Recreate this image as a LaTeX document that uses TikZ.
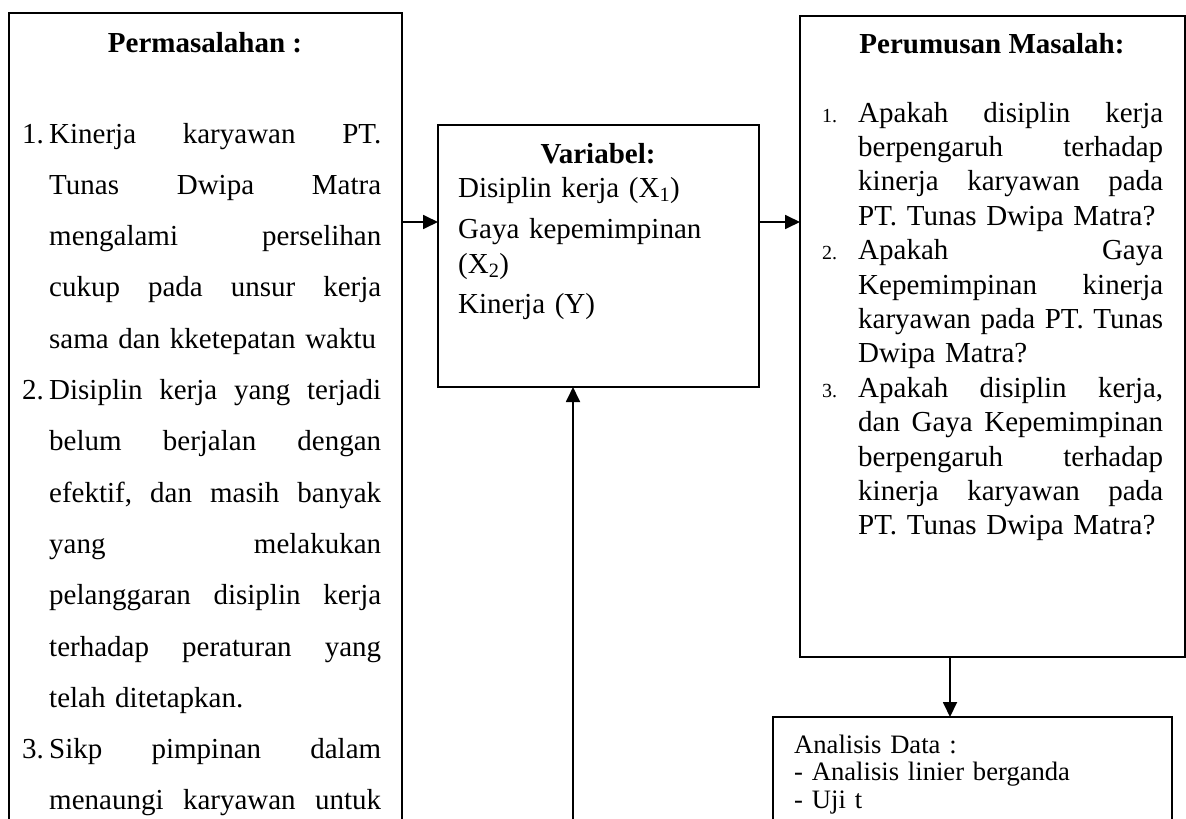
\documentclass[tikz,border=0pt]{standalone}
\usepackage{fontspec}
\setmainfont{Liberation Serif}
\usetikzlibrary{arrows.meta}

\newcommand{\barisKiri}[1]{\leavevmode\hbox to 332pt{\spaceskip=.25em plus 1fil\relax #1}}
\newcommand{\barisKanan}[1]{\leavevmode\hbox to 305pt{\spaceskip=.25em plus 1fil\relax #1}}
\newcommand{\noKiri}[1]{\leavevmode\llap{\makebox[27pt][l]{#1}}}
\newcommand{\noKanan}[1]{\leavevmode\llap{\makebox[36pt][l]{\fontsize{20}{20}\selectfont #1}}}

\tikzset{
  kotak/.style={draw, line width=1.8pt, anchor=north west, inner sep=0pt, outer sep=0pt},
  judul/.style={anchor=base, inner sep=0pt, font={\fontsize{29}{35}\selectfont\bfseries}},
  isi/.style={anchor=base west, inner sep=0pt},
  panah/.style={line width=1.8pt, -{Triangle[length=15pt,width=14pt]}},
}

\begin{document}
\frenchspacing
\begin{tikzpicture}[x=1pt,y=-1pt]
        \useasboundingbox (0,0) rectangle (1186,819);
        \clip (0,0) rectangle (1186,819);

        \node[kotak, minimum width=393, minimum height=900] (masalah) at (9,13) {};
        \node[kotak, minimum width=321, minimum height=262] (variabel) at (438,125) {};
        \node[kotak, minimum width=385, minimum height=641] (rumusan) at (800,16) {};
        \node[kotak, minimum width=399, minimum height=200] (analisis) at (773,717) {};

        \node[judul] (judulmasalah) at (205,52) {Permasalahan :};
        \node[isi, text width=340pt, font={\fontsize{29}{51.3}\selectfont}] (isimasalah) at (49,143) {%
          \noKiri{1.}\barisKiri{Kinerja karyawan PT.}\\
          \barisKiri{Tunas Dwipa Matra}\\
          \barisKiri{mengalami perselihan}\\
          \barisKiri{cukup pada unsur kerja}\\
          sama dan kketepatan waktu\\
          \noKiri{2.}\barisKiri{Disiplin kerja yang terjadi}\\
          \barisKiri{belum berjalan dengan}\\
          \barisKiri{efektif, dan masih banyak}\\
          \barisKiri{yang melakukan}\\
          \barisKiri{pelanggaran disiplin kerja}\\
          \barisKiri{terhadap peraturan yang}\\
          telah ditetapkan.\\
          \noKiri{3.}\barisKiri{Sikp pimpinan dalam}\\
          \barisKiri{menaungi karyawan untuk}};

        \node[judul] (judulvariabel) at (598,163) {Variabel:};
        \node[isi, text width=300pt, font={\fontsize{29}{35}\selectfont}] (isivariabel) at (458,197) {%
          Disiplin kerja (X\textsubscript{1})\\[6pt]
          Gaya kepemimpinan\\
          (X\textsubscript{2})\\[5pt]
          Kinerja (Y)};

        \node[judul] (judulrumusan) at (992,53) {Perumusan Masalah:};
        \node[isi, text width=310pt, font={\fontsize{29}{34.4}\selectfont}] (isirumusan) at (858,122) {%
          \noKanan{1.}\barisKanan{Apakah disiplin kerja}\\
          \barisKanan{berpengaruh terhadap}\\
          \barisKanan{kinerja karyawan pada}\\
          PT. Tunas Dwipa Matra?\\
          \noKanan{2.}\barisKanan{Apakah Gaya}\\
          \barisKanan{Kepemimpinan kinerja}\\
          \barisKanan{karyawan pada PT. Tunas}\\
          Dwipa Matra?\\
          \noKanan{3.}\barisKanan{Apakah disiplin kerja,}\\
          \barisKanan{dan Gaya Kepemimpinan}\\
          \barisKanan{berpengaruh terhadap}\\
          \barisKanan{kinerja karyawan pada}\\
          PT. Tunas Dwipa Matra?};

        \node[isi, text width=360pt, font={\fontsize{26.6}{27.5}\selectfont}] (isianalisis) at (794,753) {%
          Analisis Data :\\
          - Analisis linier berganda\\
          - Uji t};

        \coordinate (garis) at (0,222);
        \coordinate (bawah) at (573,840);
        \coordinate (turun) at (950,0);
        \path[panah] (garis -| masalah.east) edge (garis -| variabel.west)
                     (garis -| variabel.east) edge (garis -| rumusan.west)
                     (turun |- rumusan.south) edge (turun |- analisis.north)
                     (bawah) edge (bawah |- variabel.south);
      \end{tikzpicture}
\end{document}
